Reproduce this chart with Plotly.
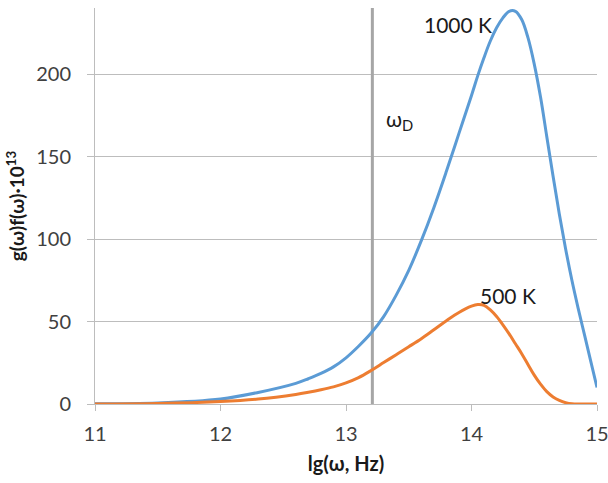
import plotly.graph_objects as go

# lg(omega) grid for each temperature curve
lg_w_1000 = [11.0, 11.5, 12.0, 12.3, 12.6, 12.7, 12.8, 12.9, 13.0, 13.1, 13.2, 13.3,
             13.4, 13.5, 13.6, 13.7, 13.8, 13.9, 14.0, 14.05, 14.1, 14.15, 14.2,
             14.25, 14.3, 14.35, 14.4, 14.45, 14.5, 14.55, 14.6, 14.65, 14.7, 14.75,
             14.8, 14.85, 14.9, 14.95, 15.0]
gf_1000 = [0.1, 0.6, 3, 7, 12.5, 15.3, 18.5, 22.5, 28, 35, 43, 53,
           66, 81, 99, 119, 141, 164, 187, 199, 210, 220, 228,
           234, 238, 238, 233, 222, 206, 186, 162, 138, 115, 94,
           75, 58, 42, 26, 10]

lg_w_500 = [11.0, 11.5, 12.0, 12.3, 12.6, 12.7, 12.8, 12.9, 13.0, 13.1, 13.2, 13.3,
            13.4, 13.5, 13.6, 13.7, 13.8, 13.9, 14.0, 14.05, 14.1, 14.15, 14.2,
            14.25, 14.3, 14.35, 14.4, 14.45, 14.5, 14.55, 14.6, 14.65, 14.7, 14.75,
            14.8, 14.9, 15.0]
gf_500 = [0.05, 0.3, 1.5, 3, 5.8, 7.1, 8.6, 10.4, 12.8, 16, 20.3, 25.1,
          29.9, 34.7, 39.6, 45, 50.5, 55.5, 59.3, 60.3, 59.8, 57, 53,
          48, 42.5, 36.5, 30.5, 24, 17.5, 12, 7.5, 4.3, 2.2, 0.8,
          0.1, 0, 0]

omega_D = 13.21  # Debye frequency, lg scale

x_ticks = [11, 12, 13, 14, 15]
y_ticks = [0, 50, 100, 150, 200]

FONT = "Lato, 'Open Sans', sans-serif"
GRID = "#bdbdbd"

fig = go.Figure()

fig.add_trace(go.Scatter(
    x=[omega_D, omega_D], y=[0, 240], mode="lines",
    line=dict(color="#a6a6a6", width=3), hoverinfo="skip", showlegend=False))

fig.add_trace(go.Scatter(
    x=lg_w_1000, y=gf_1000, mode="lines", name="1000 K",
    line=dict(color="#5B9BD5", width=3, shape="spline", smoothing=1.0),
    showlegend=False))

fig.add_trace(go.Scatter(
    x=lg_w_500, y=gf_500, mode="lines", name="500 K",
    line=dict(color="#ED7D31", width=3, shape="spline", smoothing=1.0),
    showlegend=False))

fig.add_annotation(x=13.89, y=230, text="1000 K", showarrow=False,
                   font=dict(family=FONT, size=21, color="#1a1a1a"))
fig.add_annotation(x=14.29, y=66, text="500 K", showarrow=False,
                   font=dict(family=FONT, size=21, color="#1a1a1a"))
fig.add_annotation(x=13.43, y=172, text="ω<sub>D</sub>", showarrow=False,
                   font=dict(family=FONT, size=21, color="#1a1a1a"))

fig.update_layout(
    width=608, height=483,
    margin=dict(l=95, r=11, t=8, b=79),
    paper_bgcolor="white", plot_bgcolor="white",
    font=dict(family=FONT, color="#404040"),
    xaxis=dict(
        range=[11, 15], tickvals=x_ticks, ticktext=[str(v) for v in x_ticks],
        showgrid=False, zeroline=False, automargin=False,
        ticklabeloverflow="allow",
        showline=True, linecolor=GRID, linewidth=1,
        ticks="outside", ticklen=6, tickcolor=GRID,
        tickfont=dict(size=20, color="#404040"), ticklabelstandoff=6,
        title=dict(text="<b>lg(ω, Hz)</b>", font=dict(size=20, color="#1a1a1a"),
                   standoff=12),
    ),
    yaxis=dict(
        range=[0, 240], tickvals=y_ticks, ticktext=[str(v) for v in y_ticks],
        showgrid=True, gridcolor=GRID, gridwidth=1, zeroline=False, automargin=False,
        showline=True, linecolor=GRID, linewidth=1,
        ticks="outside", ticklen=7, tickcolor=GRID,
        tickfont=dict(size=20, color="#404040"), ticklabelstandoff=12,
        title=dict(text="<b>g(ω)f(ω)·10<sup>13</sup></b>",
                   font=dict(size=19, color="#1a1a1a"), standoff=6),
    ),
)

fig.write_html("out.html")
